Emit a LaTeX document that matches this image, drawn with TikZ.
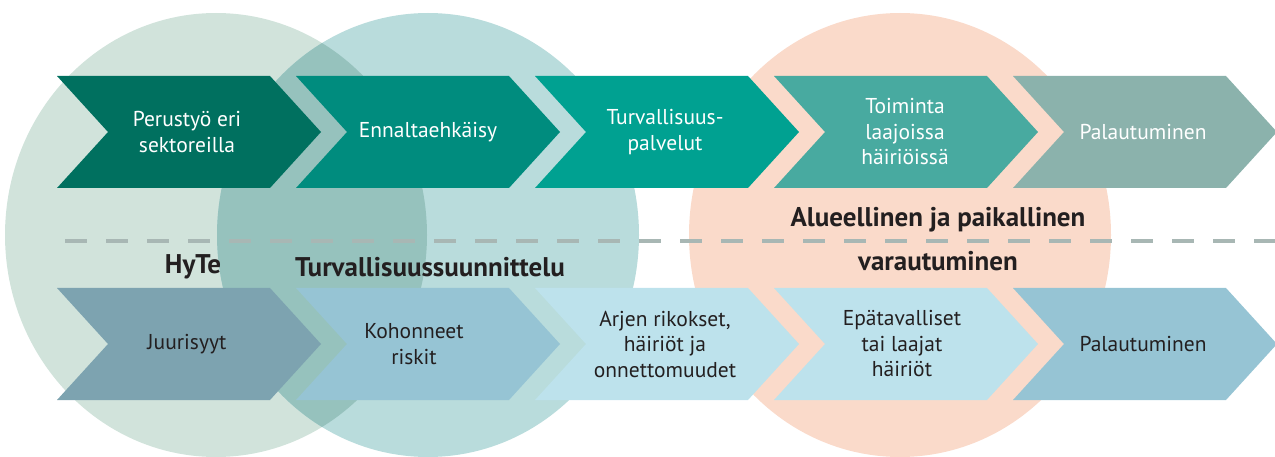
\documentclass[tikz,border=0pt]{standalone}
\usepackage{fontspec}
\setmainfont{PT Sans}
\definecolor{cOne}{HTML}{D1E3DB}
\definecolor{cTwo}{HTML}{B9DCDC}
\definecolor{cLap}{HTML}{96C2BD}
\definecolor{cThree}{HTML}{FADACA}
\definecolor{tA}{HTML}{00705F}
\definecolor{tB}{HTML}{008C7E}
\definecolor{tC}{HTML}{00A191}
\definecolor{tD}{HTML}{48AAA0}
\definecolor{tE}{HTML}{8BB2AC}
\definecolor{bA}{HTML}{7DA3B0}
\definecolor{bB}{HTML}{96C4D4}
\definecolor{bC}{HTML}{BDE2EC}
\definecolor{dashc}{HTML}{A8B7B4}
\definecolor{ink}{HTML}{231F20}
\newcommand\mychev[3]{%
  \fill[#3] (#1,#2) -- ++(213,0) -- ++(51,56) -- ++(-51,56) -- ++(-213,0) -- ++(51,-56) -- cycle;}
\begin{document}
\begin{tikzpicture}[x=1pt,y=-1pt,
  chevtext/.style={align=center,inner sep=0pt,font=\fontsize{21.5}{25.5}\selectfont},
  toptext/.style={chevtext,text=white},
  bottext/.style={chevtext,text=ink},
  boldlabel/.style={inner sep=0pt,text=ink,font=\fontsize{27}{32}\selectfont\bfseries},
  dashline/.style={draw=dashc,line width=4pt,dash pattern=on 22pt off 19pt}]
\useasboundingbox (0,0) rectangle (1275,457);
% circles
\fill[cOne] (216,235) ellipse [x radius=211pt, y radius=222pt];
\fill[cTwo] (428,235) ellipse [x radius=211pt, y radius=222pt];
\begin{scope}
  \clip (216,235) ellipse [x radius=211pt, y radius=222pt];
  \fill[cLap] (428,235) ellipse [x radius=211pt, y radius=222pt];
\end{scope}
\fill[cThree] (900,235) ellipse [x radius=211pt, y radius=222pt];
% dashed line
\coordinate (dashstart) at (65,241);
\coordinate (dashend) at (1275,241);
\draw[dashline] (dashstart) -- (dashend);
% top row
\mychev{57}{76}{tA}
\mychev{296}{76}{tB}
\mychev{535}{76}{tC}
\mychev{774}{76}{tD}
\mychev{1013}{76}{tE}
\node[toptext] (t1) at (187,132) {Perustyö eri\\sektoreilla};
\node[toptext] (t2) at (428,132) {Ennaltaehkäisy};
\node[toptext] (t3) at (665,132) {Turvallisuus-\\palvelut};
\node[toptext] (t4) at (905,132) {Toiminta\\laajoissa\\häiriöissä};
\node[toptext] (t5) at (1143,132) {Palautuminen};
% bottom row
\mychev{57}{288}{bA}
\mychev{296}{288}{bB}
\mychev{535}{288}{bC}
\mychev{774}{288}{bC}
\mychev{1013}{288}{bB}
\node[bottext] (b1) at (187,344) {Juurisyyt};
\node[bottext] (b2) at (414,344) {Kohonneet\\riskit};
\node[bottext] (b3) at (665,344) {Arjen rikokset,\\häiriöt ja\\onnettomuudet};
\node[bottext] (b4) at (902,344) {Epätavalliset\\tai laajat\\häiriöt};
\node[bottext] (b5) at (1143,344) {Palautuminen};
% labels
\node[boldlabel] (hyte) at (193,267) {HyTe};
\node[boldlabel] (tsuun) at (430,267) {Turvallisuussuunnittelu};
\node[boldlabel] (alue) at (938,220) {Alueellinen ja paikallinen};
\node[boldlabel] (vara) at (938,261) {varautuminen};
\end{tikzpicture}
\end{document}
